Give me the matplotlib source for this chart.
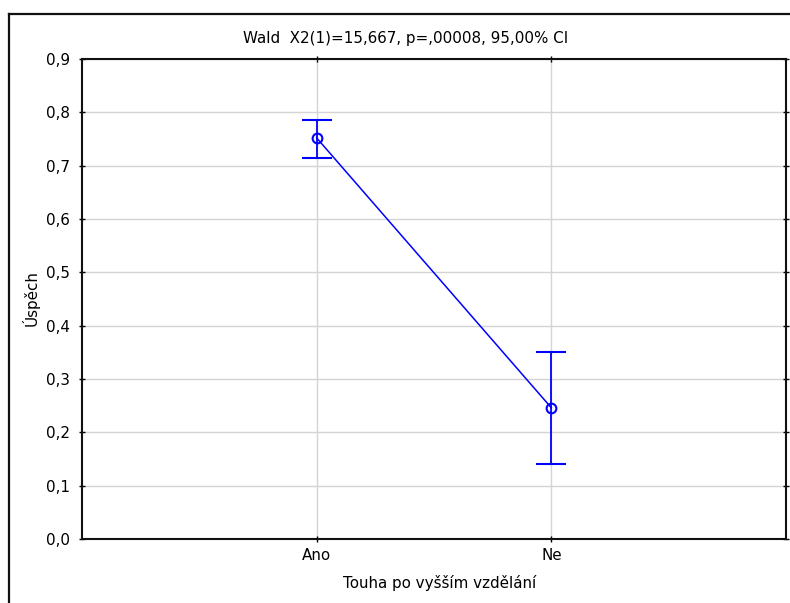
import matplotlib
matplotlib.use("Agg")
import matplotlib.pyplot as plt
from matplotlib.lines import Line2D

categories = ["Ano", "Ne"]
means = [0.752, 0.246]
ci_low = [0.714, 0.141]
ci_high = [0.786, 0.351]
y_ticks = [0.0, 0.1, 0.2, 0.3, 0.4, 0.5, 0.6, 0.7, 0.8, 0.9]
y_labels = ["0,0", "0,1", "0,2", "0,3", "0,4", "0,5", "0,6", "0,7", "0,8", "0,9"]
title = "Wald  X2(1)=15,667, p=,00008, 95,00% CI"
xlabel = "Touha po vyšším vzdělání"
ylabel = "Úspěch"

plt.rcParams['font.family'] = ['DejaVu Sans']
FS = 10.9
W, H = 790, 603
fig = plt.figure(figsize=(W / 100, H / 100), dpi=100)
ax = fig.add_axes([82 / W, 1 - 539 / H, (786 - 82) / W, (539 - 59) / H])

x = [1, 2]
yerr = [[m - l for m, l in zip(means, ci_low)], [h - m for m, h in zip(means, ci_high)]]
ax.errorbar(x, means, yerr=yerr, color='#0000ff', lw=1.1, elinewidth=1.3,
            capsize=11, capthick=1.5, marker='o', ms=7, mfc='none', mec='#0000ff',
            mew=1.5, zorder=3)

ax.set_xlim(0, 3)
ax.set_ylim(0, 0.9)
ax.set_xticks(x)
ax.set_xticklabels(categories, fontsize=FS)
ax.set_yticks(y_ticks)
ax.set_yticklabels(y_labels, fontsize=FS)
ax.grid(True, color='#d4d4d4', lw=1)
ax.set_axisbelow(True)
for s in ax.spines.values():
    s.set_linewidth(1.5)
    s.set_color('#111111')
ax.tick_params(axis='both', which='both', top=True, right=True, direction='inout',
               length=5, width=1, pad=6, labelsize=FS)
ax.tick_params(axis='x', pad=4)

fig.text(406 / W, 1 - 38 / H, title, ha='center', va='center', fontsize=FS)
fig.text(440 / W, 1 - 583 / H, xlabel, ha='center', va='center', fontsize=FS)
fig.text(31 / W, 1 - 298 / H, ylabel, ha='center', va='center', rotation=90, fontsize=FS)

# outer frame (left and top edges visible)
fig.add_artist(Line2D([9 / W, 9 / W], [1 - 14 / H, 0], transform=fig.transFigure, color='#111111', lw=1.6))
fig.add_artist(Line2D([9 / W, 1], [1 - 14 / H, 1 - 14 / H], transform=fig.transFigure, color='#111111', lw=1.6))

fig.savefig("out.png", dpi=100)
